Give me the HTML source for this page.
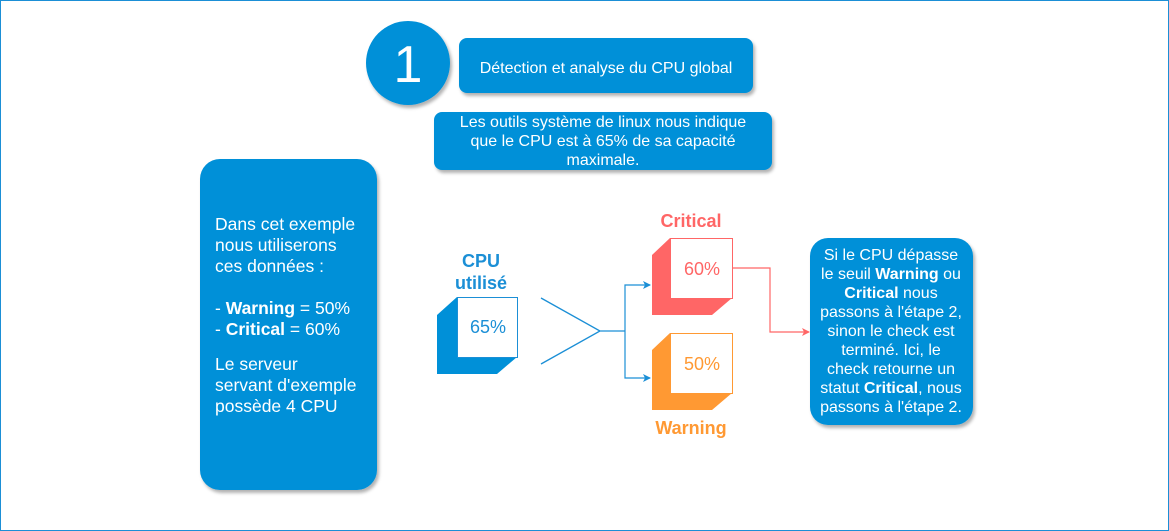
<!DOCTYPE html>
<html><head><meta charset="utf-8"><style>
body{margin:0;background:#fff;}
svg{display:block;font-family:"Liberation Sans",sans-serif;}
</style></head><body>
<svg width="1169" height="531" viewBox="0 0 1169 531">
<defs>
<filter id="sh" x="-10%" y="-10%" width="130%" height="130%"><feDropShadow dx="2" dy="3" stdDeviation="1.5" flood-color="#000" flood-opacity="0.3"/></filter>
<marker id="ab" markerWidth="8" markerHeight="8" refX="7" refY="4" orient="auto" markerUnits="userSpaceOnUse"><path d="M0,0 L8,4 L0,8 L2,4z" fill="#1b8fd6"/></marker>
<marker id="ar" markerWidth="8" markerHeight="8" refX="7" refY="4" orient="auto" markerUnits="userSpaceOnUse"><path d="M0,0 L8,4 L0,8 L2,4z" fill="#ff6666"/></marker>
</defs>
<rect x="0.5" y="0.5" width="1168" height="530" fill="#fff" stroke="#1b8fd6"/>
<circle cx="408" cy="63" r="42" fill="#0090d8" filter="url(#sh)"/>
<text x="408" y="82" font-size="52" fill="#fff" text-anchor="middle">1</text>
<rect x="459" y="38" width="294" height="55" rx="8" fill="#0090d8" filter="url(#sh)"/>
<text x="606" y="73" font-size="16" fill="#fff" text-anchor="middle">Détection et analyse du CPU global</text>
<rect x="434" y="112" width="338" height="58" rx="8" fill="#0090d8" filter="url(#sh)"/>
<text font-size="16" fill="#fff" text-anchor="middle"><tspan x="603" y="127">Les outils système de linux nous indique</tspan><tspan x="603" y="146">que le CPU est à 65% de sa capacité</tspan><tspan x="603" y="165">maximale.</tspan></text>
<rect x="200" y="159" width="177" height="331" rx="20" fill="#0090d8" filter="url(#sh)"/>
<text font-size="17.5" fill="#fff"><tspan x="215" y="230">Dans cet exemple</tspan><tspan x="215" y="251">nous utiliserons</tspan><tspan x="215" y="272">ces données :</tspan><tspan x="215" y="314">- <tspan font-weight="bold">Warning</tspan> = 50%</tspan><tspan x="215" y="335">- <tspan font-weight="bold">Critical</tspan> = 60%</tspan><tspan x="215" y="370">Le serveur</tspan><tspan x="215" y="391">servant d'exemple</tspan><tspan x="215" y="412">possède 4 CPU</tspan></text>
<rect x="810" y="238" width="163" height="187" rx="18" fill="#0090d8" filter="url(#sh)"/>
<text font-size="16" fill="#fff" text-anchor="middle"><tspan x="891" y="260">Si le CPU dépasse</tspan><tspan x="891" y="279">le seuil <tspan font-weight="bold">Warning</tspan> ou</tspan><tspan x="891" y="298"><tspan font-weight="bold">Critical</tspan> nous</tspan><tspan x="891" y="317">passons à l'étape 2,</tspan><tspan x="891" y="336">sinon le check est</tspan><tspan x="891" y="355">terminé. Ici, le</tspan><tspan x="891" y="374">check retourne un</tspan><tspan x="891" y="393">statut <tspan font-weight="bold">Critical</tspan>, nous</tspan><tspan x="891" y="412">passons à l'étape 2.</tspan></text>
<!-- CPU cube -->
<text font-size="18" font-weight="bold" fill="#1b8fd6" text-anchor="middle"><tspan x="481" y="267">CPU</tspan><tspan x="481" y="289">utilisé</tspan></text>
<polygon points="437,315 457,297 517,357 497,374 437,374" fill="#0090d8"/>
<rect x="457.5" y="297.5" width="60" height="60" fill="#fff" stroke="#1b8fd6"/>
<text x="488" y="333" font-size="18" fill="#1b8fd6" text-anchor="middle">65%</text>
<!-- critical -->
<text x="691" y="227" font-size="18" font-weight="bold" fill="#ff6666" text-anchor="middle">Critical</text>
<polygon points="652,255 670,238 732,298 712,315 652,315" fill="#ff6666"/>
<rect x="670.5" y="238.5" width="62" height="60" fill="#fff" stroke="#ff6666"/>
<text x="702" y="275" font-size="18" fill="#ff6666" text-anchor="middle">60%</text>
<!-- warning -->
<polygon points="652,350 670,333 732,393 712,410 652,410" fill="#ff9933"/>
<rect x="670.5" y="333.5" width="62" height="60" fill="#fff" stroke="#ff9933"/>
<text x="702" y="370" font-size="18" fill="#ff9933" text-anchor="middle">50%</text>
<text x="691" y="434" font-size="18" font-weight="bold" fill="#ff9933" text-anchor="middle">Warning</text>
<!-- lines -->
<path d="M541,298 L600,331 L541,364 M600,331 L625,331" fill="none" stroke="#1b8fd6" stroke-width="1.3"/>
<path d="M625,331 L625,285 L650,285" fill="none" stroke="#1b8fd6" stroke-width="1.2" marker-end="url(#ab)"/>
<path d="M625,331 L625,378 L650,378" fill="none" stroke="#1b8fd6" stroke-width="1.2" marker-end="url(#ab)"/>
<path d="M732,268 L770,268 L770,332 L809,332" fill="none" stroke="#ff6666" stroke-width="1.2" marker-end="url(#ar)"/>
</svg>
</body></html>
